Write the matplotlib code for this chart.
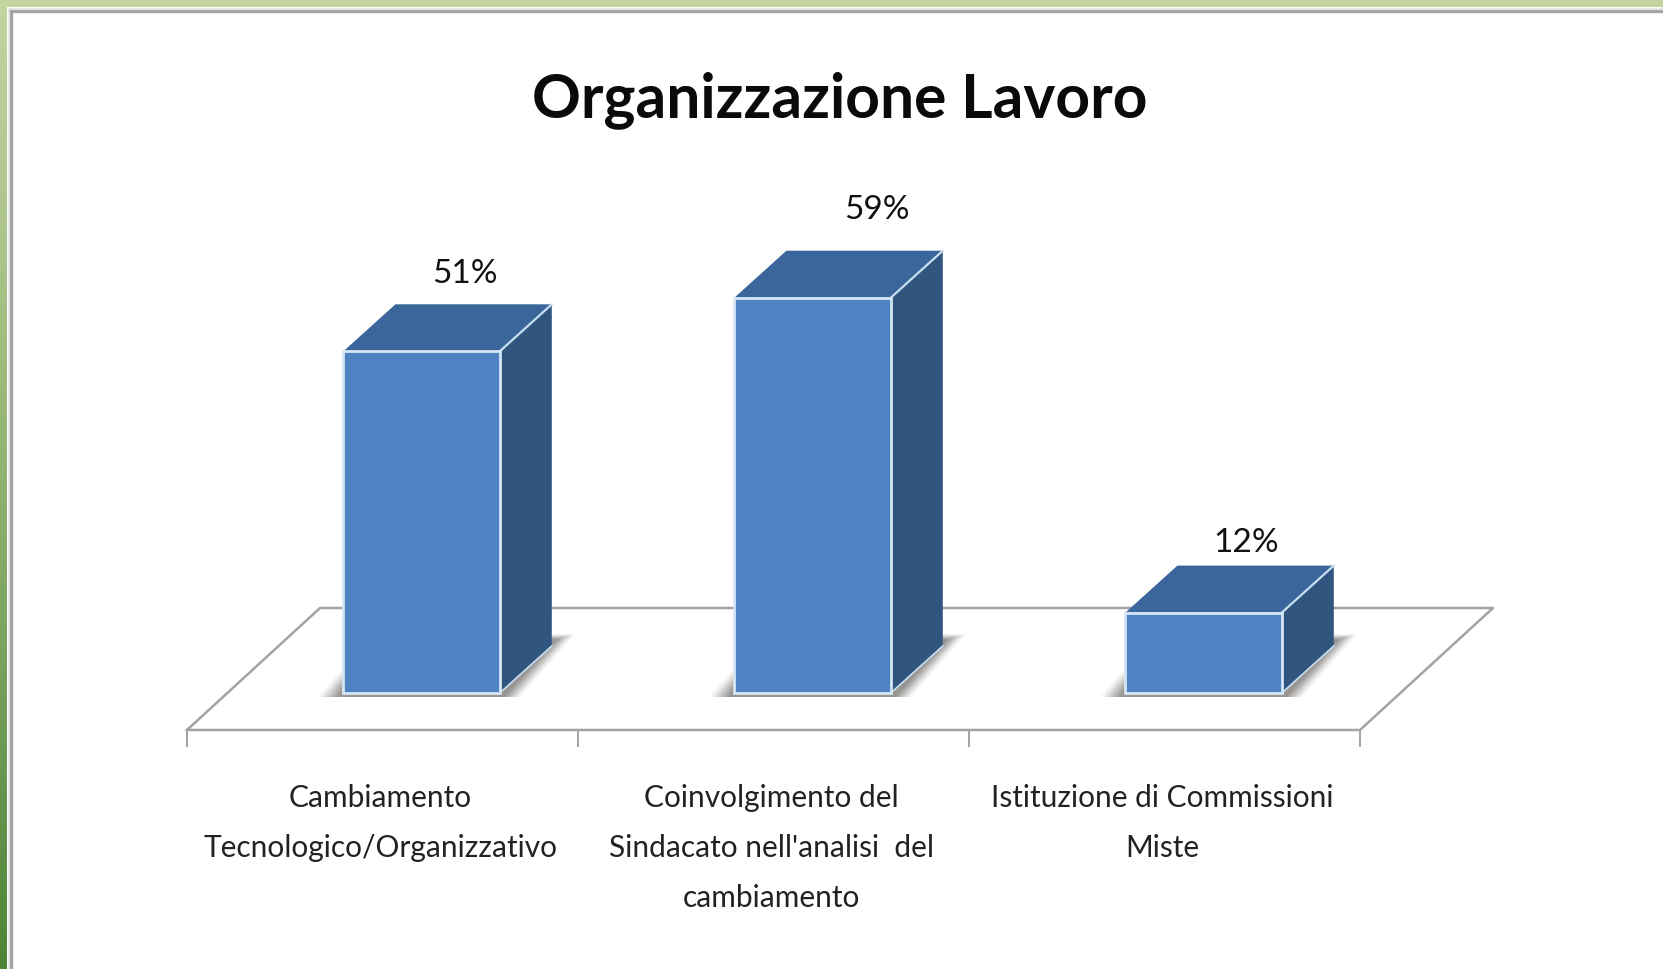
import numpy as np
import matplotlib
matplotlib.use('Agg')
import matplotlib.pyplot as plt
from matplotlib.colors import LinearSegmentedColormap
from matplotlib.patches import Polygon, Rectangle

categories = ['Cambiamento\nTecnologico/Organizzativo',
              "Coinvolgimento del\nSindacato nell'analisi  del\ncambiamento",
              'Istituzione di Commissioni\nMiste']
values = [51, 59, 12]
value_labels = ['51%', '59%', '12%']
title = 'Organizzazione Lavoro'

W, H = 1663, 969
plt.rcParams['font.family'] = ['Lato', 'DejaVu Sans']

# pixels per unit
PX_X = 391.0
PX_Y = 6.7
X0 = 187 + PX_X / 2   # pixel of category 0
Y0 = 693              # pixel of value 0

fig = plt.figure(figsize=(W / 100, H / 100), dpi=100)
fig.patch.set_facecolor('white')

# background border
bg = fig.add_axes([0, 0, 1, 1], zorder=0)
bg.axis('off')
green = LinearSegmentedColormap.from_list('g', ['#c3d4a1', '#a3bf82', '#7ba35f', '#4c8538'])
bg.imshow(np.linspace(0, 1, 256)[:, None], cmap=green, extent=[0, 7, H, 0], aspect='auto', zorder=1)
bg.add_patch(Rectangle((0, 0), W, 7, color='#c3d4a1', lw=0, zorder=1))
bg.plot([11, 11], [H, 11], color='#e2e2e2', lw=4, zorder=2)
bg.plot([11, W], [11, 11], color='#e2e2e2', lw=4, zorder=2)
bg.plot([11, 11], [H, 11], color='#a0a0a0', lw=2, zorder=3)
bg.plot([11, W], [11, 11], color='#a0a0a0', lw=2, zorder=3)
bg.set_xlim(0, W)
bg.set_ylim(H, 0)

ax = fig.add_axes([0, 0, 1, 1], zorder=1)
ax.patch.set_alpha(0)
ax.axis('off')
ax.set_xlim((0 - X0) / PX_X, (W - X0) / PX_X)
ax.set_ylim((Y0 - H) / PX_Y, Y0 / PX_Y)

x = np.arange(len(values))
off = 0.1
hw = 0.2
dep_x = 52 / PX_X
dep_y = 47 / PX_Y

# floor
fl_y = -37 / PX_Y
fl_dx = 133 / PX_X
fl_dy = 122 / PX_Y
floor_col = '#a3a3a3'
ax.plot([-0.5, -0.5 + fl_dx, 2.5 + fl_dx, 2.5, -0.5],
        [fl_y, fl_y + fl_dy, fl_y + fl_dy, fl_y, fl_y], color=floor_col, lw=1.8, zorder=1)
for t in np.arange(-0.5, 3.0):
    ax.plot([t, t], [fl_y, fl_y - 16 / PX_Y], color=floor_col, lw=1.4, zorder=1)

for i, v in enumerate(values):
    xl = x[i] + off - hw
    xr = x[i] + off + hw
    # shadow, a few layers to soften the edge
    for grow, a in [(1.0, 0.08), (0.85, 0.12), (0.7, 0.16), (0.55, 0.2), (0.4, 0.24), (0.25, 0.28)]:
        sx = (52 + 23 * grow) / PX_X
        sy = (52 + 7 * grow) / PX_Y
        ax.add_patch(Polygon([(xl - 25 / PX_X * grow, -4 / PX_Y), (xr + 20 / PX_X * grow, -4 / PX_Y),
                              (xr + sx, sy), (xr, sy), (xl, 25 / PX_Y * grow)],
                             fc='#6f6a66', ec='none', alpha=a, zorder=2))
    # top and side
    ax.add_patch(Polygon([(xl, v), (xr, v), (xr + dep_x, v + dep_y), (xl + dep_x, v + dep_y)],
                         fc='#3b669c', ec='none', zorder=3))
    ax.add_patch(Polygon([(xr, 0), (xr + dep_x, dep_y), (xr + dep_x, v + dep_y), (xr, v)],
                         fc='#30567f', ec='none', zorder=3))
    ax.plot([xr, xr + dep_x], [v, v + dep_y], color='#c8dff2', lw=1.6, zorder=4)
    ax.plot([xr, xr + dep_x], [0, dep_y], color='#c8dff2', lw=1.2, zorder=4)
    # front
    ax.add_patch(Rectangle((xl, 0), xr - xl, v, fc='#4f82c3', ec='#d5e6f5', lw=2.0, zorder=4))

label_gap = [30, 41, 23]
label_dx = [0.11, 0.165, 0.108]
for i, v in enumerate(values):
    ax.text(x[i] + off + label_dx[i], v + dep_y + label_gap[i] / PX_Y, value_labels[i],
            ha='center', va='center', fontsize=24, color='#111111', zorder=5)

for i, c in enumerate(categories):
    ax.text(x[i] - 0.005, fl_y - 54 / PX_Y, c, ha='center', va='top', fontsize=21.5,
            color='#222222', linespacing=1.95, zorder=5)

fig.text(840 / W, 1 - 100 / H, title, ha='center', va='center', fontsize=43.6,
         fontweight='bold', color='#0a0a0a')

fig.savefig('out.png', dpi=100)
